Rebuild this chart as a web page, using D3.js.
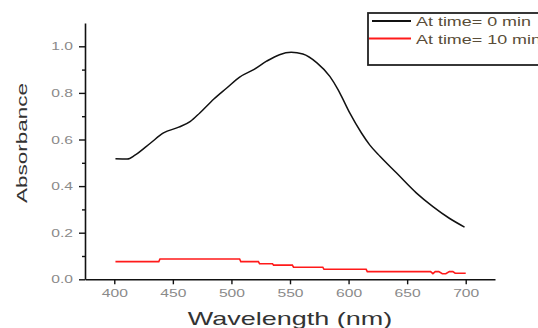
<!DOCTYPE html>
<html>
<head>
<meta charset="utf-8">
<script src="https://cdn.jsdelivr.net/npm/d3@7"></script>
<style>
  body { margin: 0; background: #fff; }
  text { font-family: "Liberation Sans", Arial, sans-serif; }
</style>
</head>
<body>
<div id="chart"></div>
<script>
// At time = 0 min
const wl_0 = [401, 411, 418, 431, 442, 455, 465, 473, 485, 496, 507, 519, 530, 541, 551,
    561, 573, 584, 591, 594, 601, 611, 618, 627, 641, 658, 672, 686, 699];
const abs_0 = [0.517, 0.516, 0.534, 0.585, 0.628, 0.653, 0.678, 0.714, 0.774, 0.821, 0.868, 0.900, 0.936, 0.964, 0.974,
    0.967, 0.929, 0.871, 0.814, 0.785, 0.714, 0.628, 0.577, 0.527, 0.456, 0.370, 0.312, 0.262, 0.224];

// At time = 10 min
const wl_10 = [401, 438, 439, 507, 508, 523, 524, 535, 536, 552, 553, 578, 579, 615, 616,
    670, 672, 674, 677, 680, 683, 686, 689, 691, 700];
const abs_10 = [0.076, 0.076, 0.087, 0.087, 0.076, 0.076, 0.067, 0.067, 0.061, 0.061, 0.052, 0.052, 0.043, 0.043, 0.033,
    0.033, 0.024, 0.033, 0.033, 0.024, 0.024, 0.033, 0.033, 0.026, 0.026];

const x_ticks = [400, 450, 500, 550, 600, 650, 700];
const y_ticks = [0.0, 0.2, 0.4, 0.6, 0.8, 1.0];
const y_minor = [0.1, 0.3, 0.5, 0.7, 0.9];
const legend_labels = ['At time= 0 min', 'At time= 10 min'];

const chart_width = 538;
const chart_height = 328;
const stretch = 1.42;

const svg = d3.select('#chart')
    .append('svg')
    .attr('width', chart_width)
    .attr('height', chart_height);

// Scales
const x_scale = d3.scaleLinear()
    .domain([375, 725])
    .range([85, 495]);

const y_scale = d3.scaleLinear()
    .domain([0, 1.1])
    .range([279.3, 23]);

// Axes
svg.append('g')
    .attr('transform', `translate(0, ${y_scale(0)})`)
    .call(d3.axisBottom(x_scale).tickValues(x_ticks).tickSize(5).tickSizeOuter(0).tickPadding(5));

svg.append('g')
    .attr('transform', `translate(${x_scale(375)}, 0)`)
    .call(d3.axisLeft(y_scale).tickValues(y_ticks).tickFormat(d3.format('.1f')).tickSize(6).tickSizeOuter(0).tickPadding(6));

svg.append('g')
    .attr('transform', `translate(${x_scale(375)}, 0)`)
    .call(d3.axisLeft(y_scale).tickValues(y_minor).tickFormat('').tickSize(3).tickSizeOuter(0))
    .select('.domain').remove();

svg.selectAll('.domain').attr('stroke', '#111').attr('stroke-width', 1.6);
svg.selectAll('.tick line').attr('stroke', '#111').attr('stroke-width', 1.4);
svg.selectAll('.tick text')
    .attr('fill', '#8a8a8a')
    .attr('font-size', 11);

// Lines
const line = d3.line()
    .x(d => x_scale(d[0]))
    .y(d => y_scale(d[1]));

svg.append('path')
    .datum(d3.zip(wl_10, abs_10))
    .attr('d', line)
    .attr('fill', 'none')
    .attr('stroke', '#ff1a1a')
    .attr('stroke-width', 1.6);

svg.append('path')
    .datum(d3.zip(wl_0, abs_0))
    .attr('d', line.curve(d3.curveMonotoneX))
    .attr('fill', 'none')
    .attr('stroke', '#111')
    .attr('stroke-width', 1.5);

// Axis titles
svg.append('text')
    .attr('x', 290)
    .attr('y', 325)
    .attr('text-anchor', 'middle')
    .attr('font-size', 19)
    .attr('fill', '#333')
    .attr('class', 'stretch')
    .text('Wavelength (nm)');

svg.append('text')
    .attr('transform', 'translate(27, 143) rotate(-90)')
    .attr('text-anchor', 'middle')
    .attr('font-size', 15)
    .attr('fill', '#333')
    .attr('data-len', 120)
    .text('Absorbance');

// Legend
svg.append('rect')
    .attr('x', 368)
    .attr('y', 13)
    .attr('width', 200)
    .attr('height', 52)
    .attr('fill', 'none')
    .attr('stroke', '#222')
    .attr('stroke-width', 1.8);

const legend_colors = ['#111', '#ff1a1a'];
const legend_y = [21, 38.5];

const legend_text = legend_labels.map((label, i) => {
    svg.append('line')
        .attr('x1', i === 0 ? 372 : 369)
        .attr('x2', 411)
        .attr('y1', legend_y[i])
        .attr('y2', legend_y[i])
        .attr('stroke', legend_colors[i])
        .attr('stroke-width', 1.8);
    return svg.append('text')
        .attr('x', 416)
        .attr('y', legend_y[i] + 5)
        .attr('font-size', 13)
        .attr('fill', '#5a4d38')
        .text(label);
});

// wide-looking glyphs like the original export
svg.selectAll('.tick text, text.stretch').each(function () {
    const len = this.getComputedTextLength();
    d3.select(this)
        .attr('textLength', len * stretch)
        .attr('lengthAdjust', 'spacingAndGlyphs');
});
svg.selectAll('text[data-len]').each(function () {
    d3.select(this)
        .attr('textLength', +this.getAttribute('data-len'))
        .attr('lengthAdjust', 'spacingAndGlyphs');
});
const legend_stretch = 115 / legend_text[0].node().getComputedTextLength();
legend_text.forEach(t => {
    t.attr('textLength', t.node().getComputedTextLength() * legend_stretch)
        .attr('lengthAdjust', 'spacingAndGlyphs');
});
</script>
</body>
</html>
